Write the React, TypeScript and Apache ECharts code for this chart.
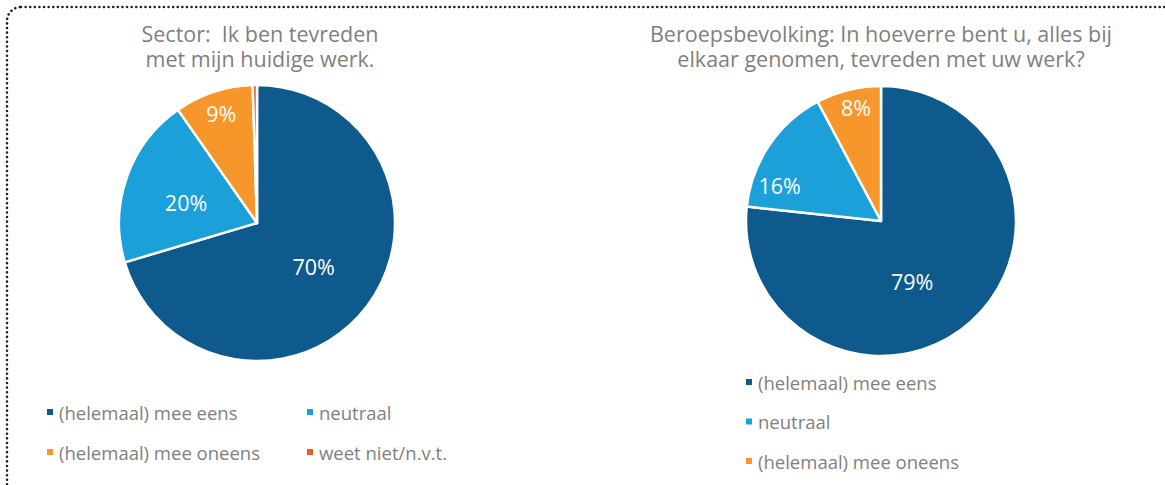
import React, { useEffect, useRef } from "react";
import * as echarts from "echarts";

const categories = ["(helemaal) mee eens", "neutraal", "(helemaal) mee oneens", "weet niet/n.v.t."];
const sectorValues = [70.4, 19.9, 9.2, 0.5];
const sectorLabels = ["70%", "20%", "9%", ""];
const populationValues = [79, 16, 8];
const populationLabels = ["79%", "16%", "8%"];
const titleSectorLines = ["Sector:  Ik ben tevreden", "met mijn huidige werk."];
const titlePopulationLines = [
  "Beroepsbevolking: In hoeverre bent u, alles bij",
  "elkaar genomen, tevreden met uw werk?",
];

const colors = ["#0F5A8C", "#1BA0DA", "#F7962B", "#EF5A2A"];
const FONT = "'Open Sans', 'Noto Sans', sans-serif";
const GREY = "#7F7F7F";

const sectorOffsets = [[-1, 0], [-3, 3], [-13, -41], [0, 0]];
const populationOffsets = [[-16, 8], [-43, 4], [-8, -45]];

export default function App() {
  const ref = useRef<HTMLDivElement>(null);
  useEffect(() => {
    if (!ref.current) return;
    const chart = echarts.init(ref.current, null, { renderer: "svg" });
    const mkData = (vals: number[], labels: string[], offs: number[][]) =>
      vals.map((v, i) => ({
        name: categories[i],
        value: v,
        itemStyle: { color: colors[i] },
        label: { show: labels[i] !== "", formatter: labels[i], offset: offs[i] },
      }));
    const labelStyle = {
      show: true,
      position: "inside",
      color: "#fff",
      fontSize: 21.5,
      fontFamily: FONT,
    };
    const legendText = { color: GREY, fontSize: 18.5, fontFamily: FONT, lineHeight: 20 };
    const legendBase = {
      orient: "vertical",
      icon: "rect",
      itemWidth: 8,
      itemHeight: 8,
      padding: 0,
      textStyle: legendText,
      selectedMode: false,
    };
    const titleText = (lines: string[], cx: number) =>
      lines.map((t, i) => ({
        type: "text",
        x: cx,
        y: 33 + i * 25,
        style: {
          text: t,
          fill: GREY,
          font: `21.5px ${FONT}`,
          textAlign: "center",
          textVerticalAlign: "middle",
        },
      }));
    chart.setOption({
      animation: false,
      backgroundColor: "#fff",
      graphic: [
        {
          type: "rect",
          shape: { x: 7, y: 7, width: 1250, height: 600, r: 14 },
          style: {
            fill: "none",
            stroke: "#222",
            lineWidth: 2.6,
            lineDash: [0.01, 4.6],
            lineCap: "round",
          },
          silent: true,
        },
        ...titleText(titleSectorLines, 260),
        ...titleText(titlePopulationLines, 881),
      ],
      legend: [
        { ...legendBase, left: 45, top: 402, itemGap: 20, data: [categories[0], categories[2]] },
        { ...legendBase, left: 305, top: 402, itemGap: 20, data: [categories[1], categories[3]] },
        { ...legendBase, left: 744, top: 372, itemGap: 19.5, data: categories.slice(0, 3) },
      ],
      series: [
        {
          type: "pie",
          center: [257, 223],
          radius: 138,
          startAngle: 90,
          clockwise: true,
          itemStyle: { borderColor: "#fff", borderWidth: 2.5 },
          label: labelStyle,
          labelLine: { show: false },
          emphasis: { disabled: true },
          data: mkData(sectorValues, sectorLabels, sectorOffsets),
        },
        {
          type: "pie",
          center: [881, 221],
          radius: 135,
          startAngle: 90,
          clockwise: true,
          itemStyle: { borderColor: "#fff", borderWidth: 2.5 },
          label: labelStyle,
          labelLine: { show: false },
          emphasis: { disabled: true },
          data: mkData(populationValues, populationLabels, populationOffsets),
        },
      ],
    });
    return () => chart.dispose();
  }, []);
  return (
    <div
      ref={ref}
      style={{ position: "fixed", left: 0, top: 0, width: 1165, height: 485 }}
    />
  );
}
